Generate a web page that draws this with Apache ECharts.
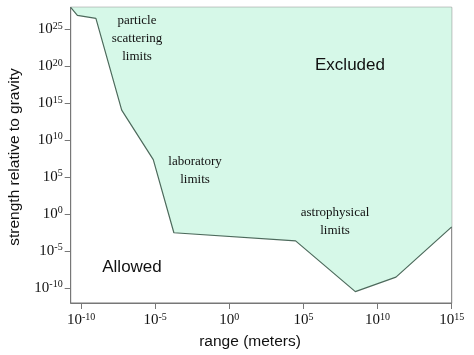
<!DOCTYPE html>
<html><head><meta charset="utf-8">
<script src="https://cdn.jsdelivr.net/npm/echarts@6/dist/echarts.min.js"></script>
<style>html,body{margin:0;padding:0;background:#fff}#c{width:474px;height:355px}</style>
</head><body><div id="c"></div>
<script>
// log10(range in meters) along the exclusion boundary
var boundaryLogRange = [-10.7, -10.25, -9.0, -7.26, -5.13, -3.74, 4.47, 8.5, 11.24, 15];
// log10(strength relative to gravity) along the boundary
var boundaryLogStrength = [28, 26.9, 26.5, 14.1, 7.4, -2.5, -3.6, -10.46, -8.5, -1.7];
var xTickExps = [-10, -5, 0, 5, 10, 15];
var yTickExps = [-10, -5, 0, 5, 10, 15, 20, 25];

var data = boundaryLogRange.map(function (x, i) { return [x, boundaryLogStrength[i]]; });
var chart = echarts.init(document.getElementById('c'));
var rich = {
  b: {fontFamily: 'Liberation Serif', fontSize: 15, color: '#111'},
  s: {fontFamily: 'Liberation Serif', fontSize: 10, color: '#111', padding: [0, 0, 7, 0]}
};
function fmt(v) { return '{b|10}{s|' + Math.round(v) + '}'; }
var serif = {fontFamily: 'Liberation Serif', fontSize: 13, fill: '#111', align: 'center', lineHeight: 18};
function txt(x, y, style, extra) {
  return Object.assign({type: 'text', x: x, y: y, z: 100, silent: true, style: style}, extra || {});
}
chart.setOption({
  animation: false,
  grid: {left: 70.7, right: 22.3, top: 7.3, bottom: 52, show: true, borderColor: '#777', borderWidth: 1, backgroundColor: 'transparent'},
  xAxis: {
    type: 'value', min: -10.7, max: 15,
    splitLine: {show: false},
    axisLine: {onZero: false, lineStyle: {color: '#777'}},
    axisTick: {show: true, length: 6, customValues: xTickExps, lineStyle: {color: '#777'}},
    axisLabel: {customValues: xTickExps, formatter: fmt, rich: rich, margin: 9}
  },
  yAxis: {
    type: 'value', min: -12, max: 28,
    splitLine: {show: false},
    axisLine: {show: true, onZero: false, lineStyle: {color: '#777'}},
    axisTick: {show: true, length: 6, customValues: yTickExps, lineStyle: {color: '#777'}},
    axisLabel: {customValues: yTickExps, formatter: fmt, rich: rich, margin: 8}
  },
  series: [{
    type: 'line', data: data, symbol: 'none', z: 2,
    lineStyle: {color: '#4d6a5c', width: 1.2},
    areaStyle: {origin: 'end', color: '#d6f8e8', opacity: 1}
  }],
  graphic: [
    txt(137, 12, Object.assign({}, serif, {text: 'particle\nscattering\nlimits'})),
    txt(195, 153, Object.assign({}, serif, {text: 'laboratory\nlimits'})),
    txt(335, 204, Object.assign({}, serif, {text: 'astrophysical\nlimits'})),
    txt(350, 65, {text: 'Excluded', fontFamily: 'Liberation Sans', fontSize: 17, fill: '#111', align: 'center', verticalAlign: 'middle'}),
    txt(132, 267, {text: 'Allowed', fontFamily: 'Liberation Sans', fontSize: 17, fill: '#111', align: 'center', verticalAlign: 'middle'}),
    txt(250, 342, {text: 'range (meters)', fontFamily: 'Liberation Sans', fontSize: 15.5, fill: '#111', align: 'center', verticalAlign: 'middle'}),
    txt(15, 157, {text: 'strength relative to gravity', fontFamily: 'Liberation Sans', fontSize: 15.5, fill: '#111', align: 'center', verticalAlign: 'middle'}, {rotation: Math.PI / 2})
  ]
});
</script></body></html>
